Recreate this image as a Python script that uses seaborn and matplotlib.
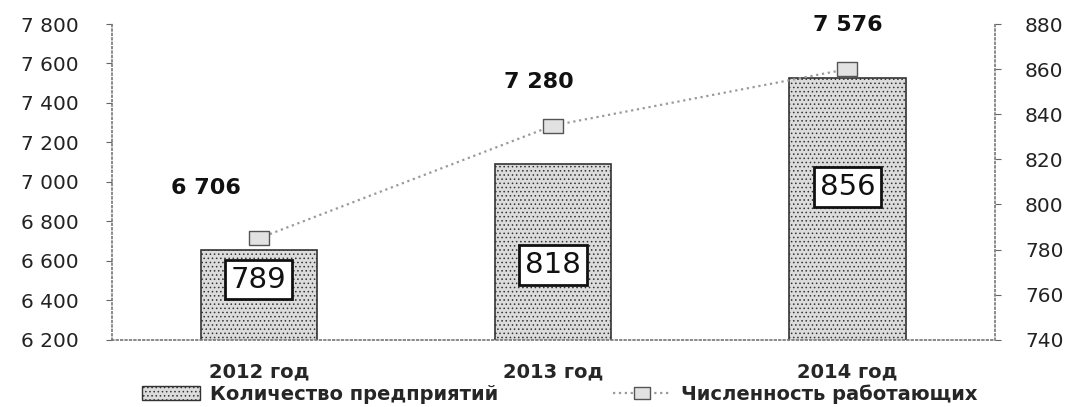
import numpy as np
import pandas as pd
import matplotlib
matplotlib.use("Agg")
import matplotlib.pyplot as plt
import seaborn as sns
from matplotlib.patches import Patch
from matplotlib.lines import Line2D

# data
years = ["2012 год", "2013 год", "2014 год"]
enterprises = [6655, 7090, 7525]          # bar heights on the left axis
enterprise_labels = ["6 706", "7 280", "7 576"]
workers = [785, 835, 860]                 # line values on the right axis
worker_labels = ["789", "818", "856"]

sns.set_theme(style="white")
plt.rcParams['font.family'] = ['DejaVu Sans']
plt.rcParams['hatch.color'] = '#a8a8a8'
plt.rcParams['hatch.linewidth'] = 0.6

# wide rectangle marker like the original
rect_marker = [(-1.4, -1), (1.4, -1), (1.4, 1), (-1.4, 1), (-1.4, -1)]

fig, ax = plt.subplots(figsize=(10.74, 4.07), dpi=100)
fig.subplots_adjust(left=0.104, right=0.926, top=0.941, bottom=0.165)

df = pd.DataFrame({"year": years, "enterprises": enterprises})
sns.barplot(data=df, x="year", y="enterprises", ax=ax, width=0.395,
            color="#dcdcdc", edgecolor="#333333", linewidth=1.2, hatch="....",
            saturation=1)

ax.set_ylim(6200, 7800)
ax.set_yticks(np.arange(6200, 7801, 200))
ax.set_yticklabels([f"{v // 1000} {v % 1000:03d}" for v in range(6200, 7801, 200)],
                   fontsize=14.5, color="#222222")
ax.set_xlim(-0.5, 2.5)
ax.set_xlabel("")
ax.set_ylabel("")
ax.tick_params(axis="x", labelsize=14, length=0, pad=16)
for lbl in ax.get_xticklabels():
    lbl.set_fontweight("bold")
ax.tick_params(axis="y", length=4, width=0.8, color="#666666", pad=20, left=True)

for s in ["top", "right"]:
    ax.spines[s].set_visible(False)
for s in ["left", "bottom"]:
    ax.spines[s].set_color("#777777")
    ax.spines[s].set_linestyle(":")
    ax.spines[s].set_linewidth(1.2)

# bar value labels above bars
label_pos = [(-0.18, 6970), (0.95, 7506), (2.0, 7795)]
for (x, y), t in zip(label_pos, enterprise_labels):
    ax.text(x, y, t, ha="center", va="center", fontsize=16,
            fontweight="bold", color="#111111")

ax2 = ax.twinx()
sns.lineplot(x=list(range(len(years))), y=workers, ax=ax2, color="#9a9a9a",
             linestyle=":", linewidth=1.6, marker=rect_marker, markersize=14,
             markerfacecolor="#e2e2e2", markeredgecolor="#555555",
             markeredgewidth=1.0)
ax2.set_ylim(740, 880)
ax2.set_yticks(np.arange(740, 881, 20))
ax2.set_yticklabels([str(v) for v in range(740, 881, 20)], fontsize=14.5,
                    color="#222222")
ax2.tick_params(axis="y", length=4, width=0.8, color="#666666", pad=18, right=True)
for s in ["top", "left", "bottom"]:
    ax2.spines[s].set_visible(False)
ax2.spines["right"].set_color("#777777")
ax2.spines["right"].set_linestyle(":")
ax2.spines["right"].set_linewidth(1.2)
ax2.set_xlim(-0.5, 2.5)

# boxed labels inside bars
box_pos = [(0, 6505), (1, 6580), (2, 6975)]
for (x, y), t in zip(box_pos, worker_labels):
    ax.text(x, y, t, ha="center", va="center", fontsize=21, color="#111111",
            zorder=5,
            bbox=dict(boxstyle="square,pad=0.2", facecolor="white",
                      edgecolor="#111111", linewidth=2))

handles = [
    Patch(facecolor="#dcdcdc", edgecolor="#333333", hatch="....",
          label="Количество предприятий"),
    Line2D([0], [0], color="#9a9a9a", linestyle=":", linewidth=1.6,
           marker=rect_marker, markersize=12, markerfacecolor="#e2e2e2",
           markeredgecolor="#555555", label="Численность работающих"),
]
leg = fig.legend(handles=handles, loc="center left", ncol=2, frameon=False,
                 bbox_to_anchor=(0.132, 0.032), borderaxespad=0, borderpad=0,
                 columnspacing=5.9, handlelength=3.0, handletextpad=0.5,
                 prop={"size": 14, "weight": "bold"})

fig.savefig("out.png", dpi=100)
